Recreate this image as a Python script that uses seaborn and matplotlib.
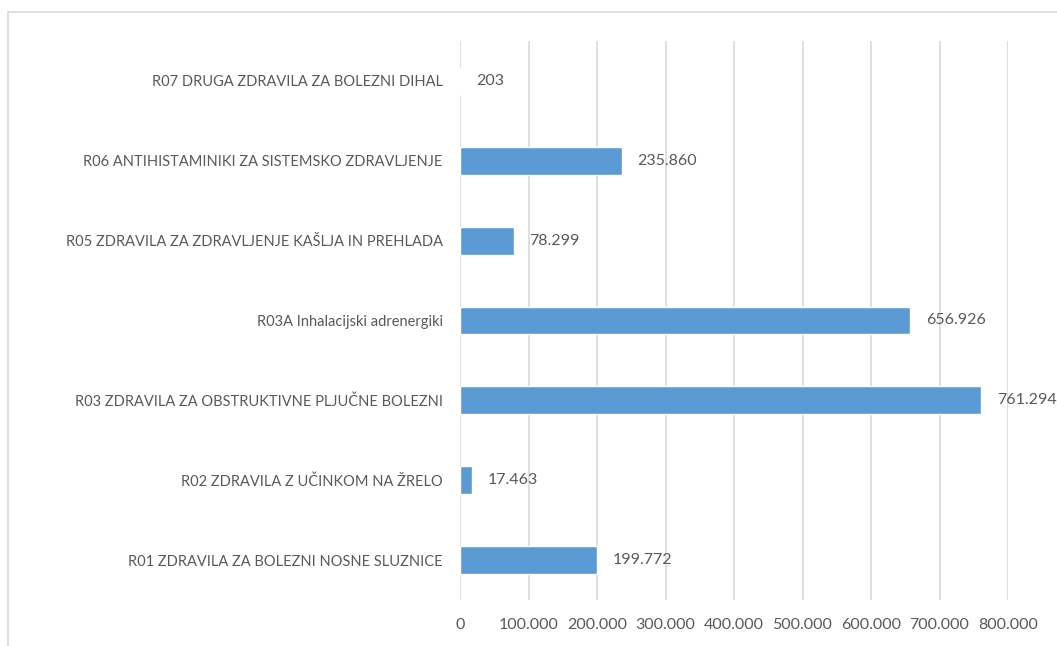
import matplotlib
matplotlib.use('Agg')
import matplotlib.pyplot as plt
import seaborn as sns
import pandas as pd
from matplotlib.lines import Line2D
from matplotlib.ticker import FuncFormatter

# Podatki (od zgoraj navzdol)
kategorije = [
    'R07 DRUGA ZDRAVILA ZA BOLEZNI DIHAL',
    'R06 ANTIHISTAMINIKI ZA SISTEMSKO ZDRAVLJENJE',
    'R05 ZDRAVILA ZA ZDRAVLJENJE KAŠLJA IN PREHLADA',
    'R03A Inhalacijski adrenergiki',
    'R03 ZDRAVILA ZA OBSTRUKTIVNE PLJUČNE BOLEZNI',
    'R02 ZDRAVILA Z UČINKOM NA ŽRELO',
    'R01 ZDRAVILA ZA BOLEZNI NOSNE SLUZNICE',
]
vrednosti = [203, 235860, 78299, 656926, 761294, 17463, 199772]
x_ticks = [0, 100000, 200000, 300000, 400000, 500000, 600000, 700000, 800000]

df = pd.DataFrame({'kategorija': kategorije, 'vrednost': vrednosti})

sns.set_theme(style='white')
plt.rcParams['font.family'] = ['Lato', 'DejaVu Sans']

TEXT = '#595959'
GRID = '#D9D9D9'
BAR = '#5B9BD5'


def fmt(v, pos=None):
    return f'{int(v):,}'.replace(',', '.')


fig = plt.figure(figsize=(10.57, 6.46), dpi=100)
ax = fig.add_axes([460 / 1057, 46 / 646, 548 / 1057, 559 / 646])

sns.barplot(data=df, x='vrednost', y='kategorija', orient='h', color=BAR,
            width=0.35, saturation=1, ax=ax, zorder=3)

ax.set_xlim(0, 800000)
ax.set_xticks(x_ticks)
ax.xaxis.set_major_formatter(FuncFormatter(fmt))
ax.grid(axis='x', color=GRID, linewidth=1.2, zorder=0)
ax.set_axisbelow(True)
for s in ax.spines.values():
    s.set_visible(False)
ax.set_xlabel('')
ax.set_ylabel('')
ax.tick_params(axis='both', length=0, colors=TEXT)
ax.tick_params(axis='y', pad=12.5, labelsize=10.5)
ax.tick_params(axis='x', pad=13, labelsize=11.5)

for i, v in enumerate(vrednosti):
    ax.annotate(fmt(v), (v, i), xytext=(11.5, 0), textcoords='offset points',
                va='center', ha='left', color=TEXT, fontsize=11.5)

# okvir grafikona
fig.add_artist(Line2D([8 / 1057, 8 / 1057], [0, 1 - 12 / 646], color=GRID,
                      linewidth=1.2, transform=fig.transFigure))
fig.add_artist(Line2D([8 / 1057, 1], [1 - 12 / 646, 1 - 12 / 646], color=GRID,
                      linewidth=1.2, transform=fig.transFigure))

fig.savefig('out.png', dpi=100)
